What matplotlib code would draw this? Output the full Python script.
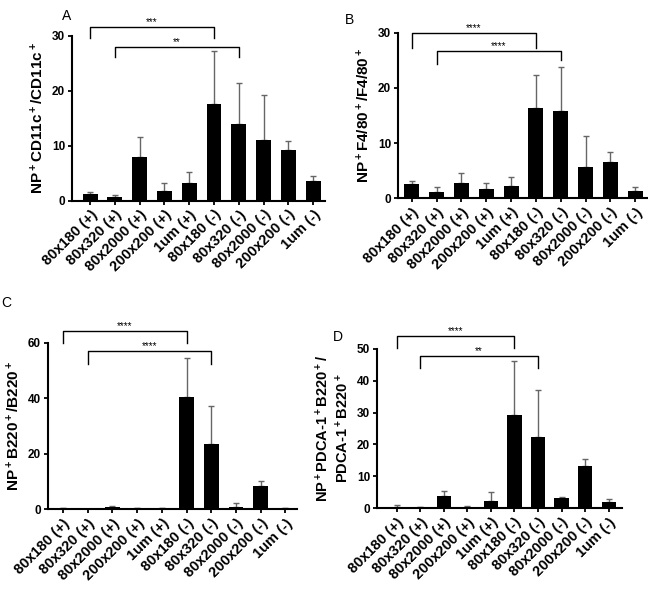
import matplotlib.pyplot as plt
import numpy as np

plt.rcParams['font.family'] = ['Liberation Sans', 'DejaVu Sans']
plt.rcParams['mathtext.fontset'] = 'custom'
plt.rcParams['mathtext.rm'] = 'Liberation Sans:bold'
plt.rcParams['mathtext.bf'] = 'Liberation Sans:bold'
plt.rcParams['mathtext.default'] = 'bf'

groups = ['80x180 (+)', '80x320 (+)', '80x2000 (+)', '200x200 (+)', '1um (+)',
          '80x180 (-)', '80x320 (-)', '80x2000 (-)', '200x200 (-)', '1um (-)']

a_mean = [1.3, 0.7, 7.9, 1.8, 3.2, 17.5, 14.0, 11.1, 9.3, 3.5]
a_err = [0.3, 0.4, 3.7, 1.5, 2.0, 9.8, 7.4, 8.1, 1.5, 1.0]
b_mean = [2.6, 1.2, 2.8, 1.6, 2.2, 16.4, 15.9, 5.6, 6.6, 1.3]
b_err = [0.6, 0.8, 1.7, 1.1, 1.6, 6.0, 7.9, 5.6, 1.7, 0.7]
c_mean = [0.3, 0.1, 1.0, 0.3, 0.3, 40.6, 23.5, 1.0, 8.3, 0.3]
c_err = [0.1, 0.1, 0.3, 0.1, 0.1, 14.0, 13.6, 1.4, 1.9, 0.2]
d_mean = [0.5, 0.3, 3.7, 0.3, 2.3, 29.2, 22.4, 3.3, 13.1, 1.9]
d_err = [0.5, 0.1, 1.7, 0.5, 2.7, 17.1, 14.8, 0.2, 2.2, 1.1]

fig = plt.figure(figsize=(6.48, 5.93), dpi=100)
W, H = 648, 593


def px_axes(left, right, bottom, top):
    return fig.add_axes([left / W, 1 - bottom / H, (right - left) / W, (bottom - top) / H])


def panel(ax, mean, err, ymax, step, ylabel, brackets, xlim, ylsize=11):
    x = np.arange(len(mean))
    ax.bar(x, mean, width=0.6, color='black', zorder=2)
    ax.errorbar(x, mean, yerr=[np.zeros(len(err)), err], fmt='none', ecolor='#666666',
                elinewidth=1.0, capsize=2.5, capthick=1.0, zorder=1)
    ax.set_ylim(0, ymax)
    ax.set_xlim(*xlim)
    ax.set_yticks(np.arange(0, ymax + 0.1, step))
    ax.set_xticks(x)
    ax.set_xticklabels(groups, rotation=45, ha='right', rotation_mode='anchor',
                       fontsize=10.5, fontweight='bold')
    for lab in ax.get_yticklabels():
        lab.set_fontweight('bold')
        lab.set_fontsize(8.5)
    ax.tick_params(axis='both', width=1.3, length=3, pad=2)
    ax.spines['top'].set_visible(False)
    ax.spines['right'].set_visible(False)
    ax.spines['left'].set_linewidth(1.5)
    ax.spines['bottom'].set_linewidth(1.5)
    ax.set_ylabel(ylabel, fontsize=ylsize, fontweight='bold', labelpad=4)
    for i, j, yb, yl, yr, txt in brackets:
        ax.plot([i, i, j, j], [yl, yb, yb, yr], color='black', lw=1.0, clip_on=False)
        ax.text((i + j) / 2, yb, txt, ha='center', va='bottom', fontsize=7, clip_on=False)


axA = px_axes(72, 325, 200.7, 35.7)
panel(axA, a_mean, a_err, 30, 10, 'NP$^+$CD11c$^+$/CD11c$^+$',
      [(0, 5, 31.5, 29.6, 29.6, '***'), (1, 6, 28.0, 26.2, 26.2, '**')], (-0.73, 9.48))

axB = px_axes(398, 648, 198.3, 32.7)
panel(axB, b_mean, b_err, 30, 10, 'NP$^+$F4/80$^+$/F4/80$^+$',
      [(0, 5, 29.9, 27.3, 27.3, '****'), (1, 6, 26.7, 24.4, 25.0, '****')], (-0.56, 9.52))

axC = px_axes(48, 297, 509.3, 342.7)
panel(axC, c_mean, c_err, 60, 20, 'NP$^+$B220$^+$/B220$^+$',
      [(0, 5, 64.2, 59.8, 59.8, '****'), (1, 6, 57.0, 52.3, 52.3, '****')], (-0.61, 9.47))

axD = px_axes(377, 622, 508.3, 348.7)
panel(axD, d_mean, d_err, 50, 10, 'NP$^+$PDCA-1$^+$B220$^+$/\nPDCA-1$^+$B220$^+$',
      [(0, 5, 54.1, 50.1, 50.1, '****'), (1, 6, 47.8, 44.0, 44.0, '**')], (-0.84, 9.57),
      ylsize=10.5)

fig.text(62 / W, 1 - 16 / H, 'A', fontsize=10, ha='left', va='center')
fig.text(345 / W, 1 - 20 / H, 'B', fontsize=10, ha='left', va='center')
fig.text(1 / W, 1 - 303 / H, 'C', fontsize=10, ha='left', va='center')
fig.text(333 / W, 1 - 337 / H, 'D', fontsize=10, ha='left', va='center')

fig.savefig('out.png', dpi=100)
